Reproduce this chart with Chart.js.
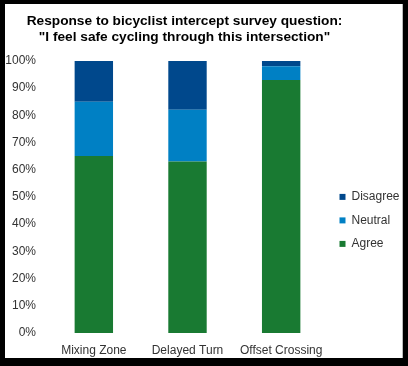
<!DOCTYPE html>
<html>
<head>
<meta charset="utf-8">
<script src="https://cdn.jsdelivr.net/npm/chart.js@4/dist/chart.umd.min.js"></script>
<style>
  html, body { margin: 0; padding: 0; background: #000; }
  #frame {
    position: absolute; left: 5px; top: 4px;
    width: 397px; height: 354px;
    background: #fff;
    border-right: 1px solid #bbb;
  }
</style>
</head>
<body>
<div id="frame"><canvas id="surveyChart" width="397" height="354"></canvas></div>
<script>
// survey data (percent of respondents)
const locations = ['Mixing Zone', 'Delayed Turn', 'Offset Crossing'];
const agree = [65, 63, 93];
const neutral = [20, 19, 5];
const disagree = [15, 18, 2];
const titleLines = [
  'Response to bicyclist intercept survey question:',
  '"I feel safe cycling through this intersection"'
];

const FONT = 'Liberation Sans, Arial, sans-serif';

// center the title over the plot area instead of the whole canvas
const titleOverPlot = {
  id: 'titleOverPlot',
  afterLayout(chart) {
    const mid = (chart.chartArea.left + chart.chartArea.right) / 2 - 3;
    chart.titleBlock.left = mid - 190;
    chart.titleBlock.right = mid + 190;
  }
};

const data = {
  labels: locations,
  datasets: [
    { label: 'Agree', data: agree, backgroundColor: 'rgb(25, 122, 50)' },
    { label: 'Neutral', data: neutral, backgroundColor: 'rgb(0, 128, 196)' },
    { label: 'Disagree', data: disagree, backgroundColor: 'rgb(0, 72, 140)' }
  ]
};

const config = {
  type: 'bar',
  data: data,
  plugins: [titleOverPlot],
  options: {
    responsive: false,
    animation: false,
    categoryPercentage: 1,
    barPercentage: 0.41,
    layout: { padding: 0 },
    plugins: {
      title: {
        display: true,
        text: titleLines,
        color: '#000',
        font: { family: FONT, size: 13.7, weight: 'bold', lineHeight: 1.2 },
        padding: { top: 9, bottom: 15 }
      },
      legend: {
        position: 'right',
        align: 'start',
        reverse: true,
        maxWidth: 74,
        title: { display: true, text: ' ', padding: { top: 0, bottom: 161 }, font: { size: 12 } },
        labels: {
          boxWidth: 6,
          boxHeight: 6,
          padding: 11.5,
          color: '#333',
          font: { family: FONT, size: 12 }
        }
      },
      tooltip: { enabled: false }
    },
    scales: {
      x: {
        stacked: true,
        grid: { display: false, drawTicks: false },
        border: { display: false },
        afterFit: (scale) => { scale.height = 25; },
        ticks: {
          color: '#333',
          padding: 10,
          maxRotation: 0,
          font: { family: FONT, size: 12 }
        }
      },
      y: {
        stacked: true,
        min: 0,
        max: 100,
        grid: { display: false, drawTicks: false },
        border: { display: false },
        afterFit: (scale) => { scale.width = 42; },
        ticks: {
          stepSize: 10,
          color: '#333',
          padding: 11,
          font: { family: FONT, size: 12 },
          callback: (v) => v + '%'
        }
      }
    }
  }
};

const surveyChart = new Chart(document.getElementById('surveyChart'), config);
</script>
</body>
</html>
